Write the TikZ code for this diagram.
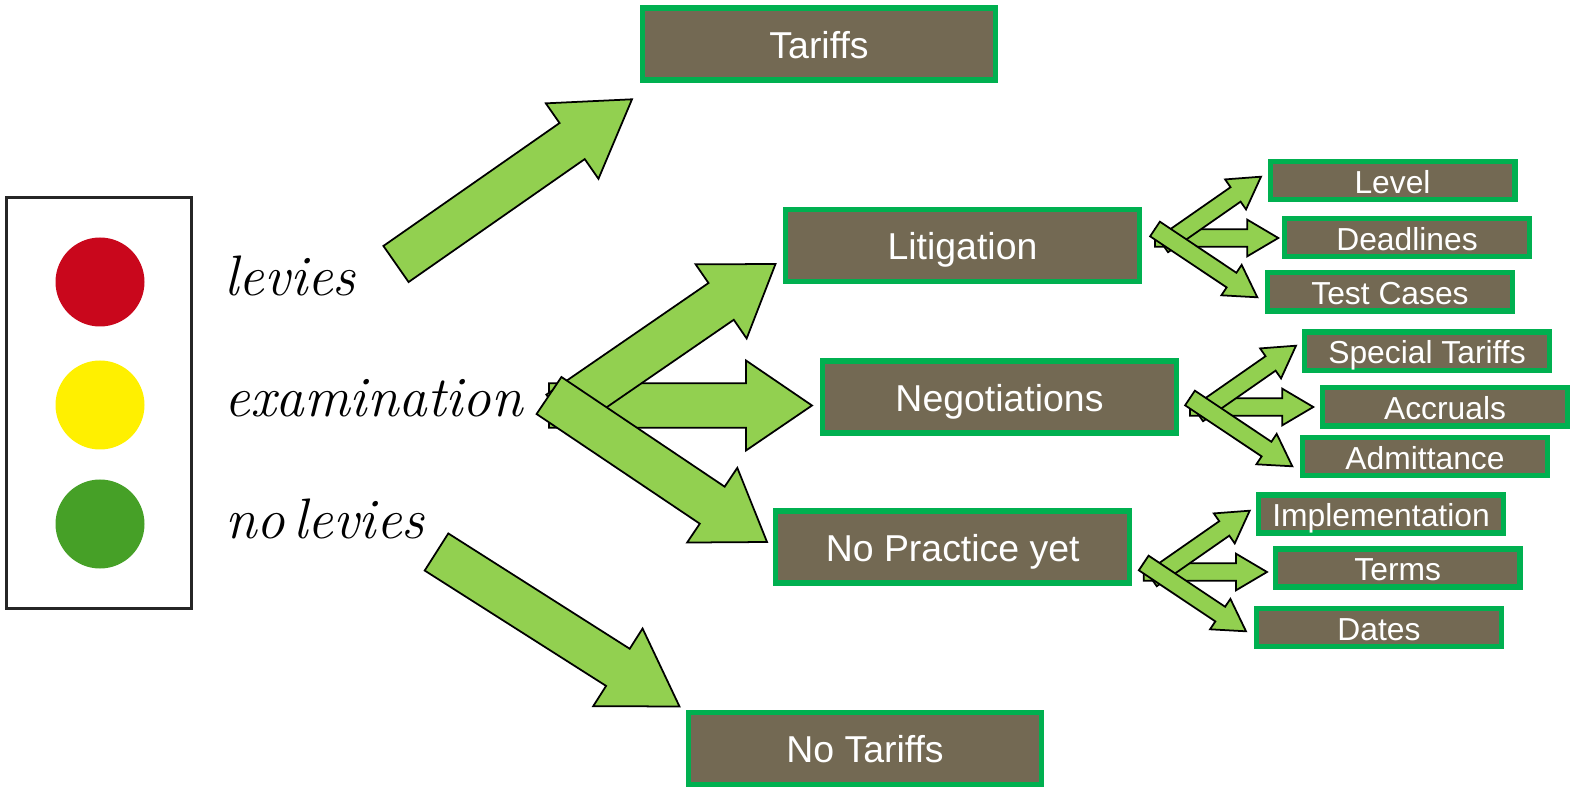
\documentclass[tikz,border=0pt]{standalone}
\usepackage{fontspec}
\setmainfont{Liberation Sans}
\usetikzlibrary{calc}
\definecolor{boxfill}{HTML}{736953}
\definecolor{boxline}{HTML}{00B050}
\definecolor{arrowfill}{HTML}{92D050}
\definecolor{lampred}{HTML}{C9071C}
\definecolor{lampyellow}{HTML}{FFF000}
\definecolor{lampgreen}{HTML}{46A027}
\newcommand{\pxu}{*0.02cm}
\tikzset{
  bigbox/.style={draw=boxline, fill=boxfill, line width=3pt, text=white, inner sep=0pt,
    minimum width=353.7\pxu, minimum height=72.2\pxu, text height=16pt, text depth=0pt,
    font=\fontsize{21.3pt}{24pt}\selectfont},
  smallbox/.style={draw=boxline, fill=boxfill, line width=3pt, text=white, inner sep=0pt,
    minimum width=244.7\pxu, minimum height=38.2\pxu, text height=14.2pt, text depth=0pt,
    font=\fontsize{18.1pt}{20pt}\selectfont},
  lamp/.style={circle, inner sep=0pt, minimum width=89\pxu, minimum height=89\pxu},
  handtext/.style={anchor=base west, inner sep=0pt,
    font=\fontfamily{lmr}\itshape\fontsize{32.5pt}{34pt}\selectfont},
  blockarrow/.style n args={3}{draw=black, fill=arrowfill, line width=1pt, line join=miter,
    to path={
      ($(\tikztostart)!#1\pxu!90:(\tikztotarget)$)
      -- ($(\tikztotarget)!#3\pxu!(\tikztostart)!#1\pxu!-90:(\tikztostart)$)
      -- ($(\tikztotarget)!#3\pxu!(\tikztostart)!#2\pxu!-90:(\tikztostart)$)
      -- (\tikztotarget)
      -- ($(\tikztotarget)!#3\pxu!(\tikztostart)!#2\pxu!90:(\tikztostart)$)
      -- ($(\tikztotarget)!#3\pxu!(\tikztostart)!#1\pxu!90:(\tikztostart)$)
      -- ($(\tikztostart)!#1\pxu!-90:(\tikztotarget)$) -- cycle}},
  longarrow/.style={blockarrow={22}{46}{73}},
  forkarrow/.style={blockarrow={22.3}{45}{66}},
  smallarrow/.style={blockarrow={8.8}{18.3}{31}},
}
\begin{document}
\begin{tikzpicture}[x=0.02cm, y=-0.02cm]
  \useasboundingbox (0,0) rectangle (1575,793);
  % traffic light
  \node[draw=black!85, line width=2pt, minimum width=185\pxu, minimum height=411\pxu, inner sep=0pt] (light) at (99,403) {};
  \node[lamp, fill=lampred] (red) at (100,282) {};
  \node[lamp, fill=lampyellow] (yellow) at (100,405) {};
  \node[lamp, fill=lampgreen] (green) at (100,524) {};
  \node[handtext] (levies) at (224,296) {levies};
  \node[handtext] (examination) at (224,417) {examination};
  \node[handtext] (nolevies) at (225,539) {no\hspace{-.21em} levies};
  % big boxes
  \node[bigbox] (tariffs) at (819,44) {Tariffs};
  \node[bigbox] (litigation) at (962.5,245.5) {Litigation};
  \node[bigbox] (negotiations) at (999.5,397) {Negotiations};
  \node[bigbox] (nopractice) at (952.7,547) {No Practice yet};
  \node[bigbox] (notariffs) at (865,748.7) {No Tariffs};
  % small boxes
  \node[smallbox] (level) at (1392.5,180.7) {Level};
  \node[smallbox] (deadlines) at (1407,237.7) {Deadlines};
  \node[smallbox] (testcases) at (1390,291.8) {Test Cases};
  \node[smallbox] (special) at (1427,351.2) {Special Tariffs};
  \node[smallbox] (accruals) at (1445,406.8) {Accruals};
  \node[smallbox] (admittance) at (1425,456.7) {Admittance};
  \node[smallbox] (implementation) at (1381,514) {Implementation};
  \node[smallbox] (terms) at (1397.7,568) {Terms};
  \node[smallbox] (dates) at (1379,627.7) {Dates};
  % arrow ends
  \coordinate (a1) at (396,264);
  \coordinate (a2) at (632,99.3);
  \coordinate (b1) at (436.5,552);
  \coordinate (b2) at (679.5,706.5);
  \coordinate (c1) at (559,413);
  \coordinate (c2) at (775.5,264);
  \coordinate (c3) at (549,405.5);
  \coordinate (c4) at (812,405.5);
  \coordinate (c5) at (549,395.5);
  \coordinate (c6) at (767,542);
  \draw[longarrow] (a1) to (a2);
  \draw[longarrow] (b1) to (b2);
  \draw[forkarrow] (c3) to (c4);
  \draw[forkarrow] (c1) to (c2);
  \draw[forkarrow] (c5) to (c6);
  % small arrows, one group per box
  \foreach \dx/\dy/\name in {0/0/lit, 35/169/neg, -11.3/334/pra}{
    \coordinate (\name1) at ({1163+\dx},{245+\dy});
    \coordinate (\name2) at ({1261+\dx},{176.7+\dy});
    \coordinate (\name3) at ({1155+\dx},{238+\dy});
    \coordinate (\name4) at ({1278.3+\dx},{238+\dy});
    \coordinate (\name5) at ({1155+\dx},{229+\dy});
    \coordinate (\name6) at ({1257.3+\dx},{297.3+\dy});
    \draw[smallarrow] (\name3) to (\name4);
    \draw[smallarrow] (\name1) to (\name2);
    \draw[smallarrow] (\name5) to (\name6);
  }
\end{tikzpicture}
\end{document}
